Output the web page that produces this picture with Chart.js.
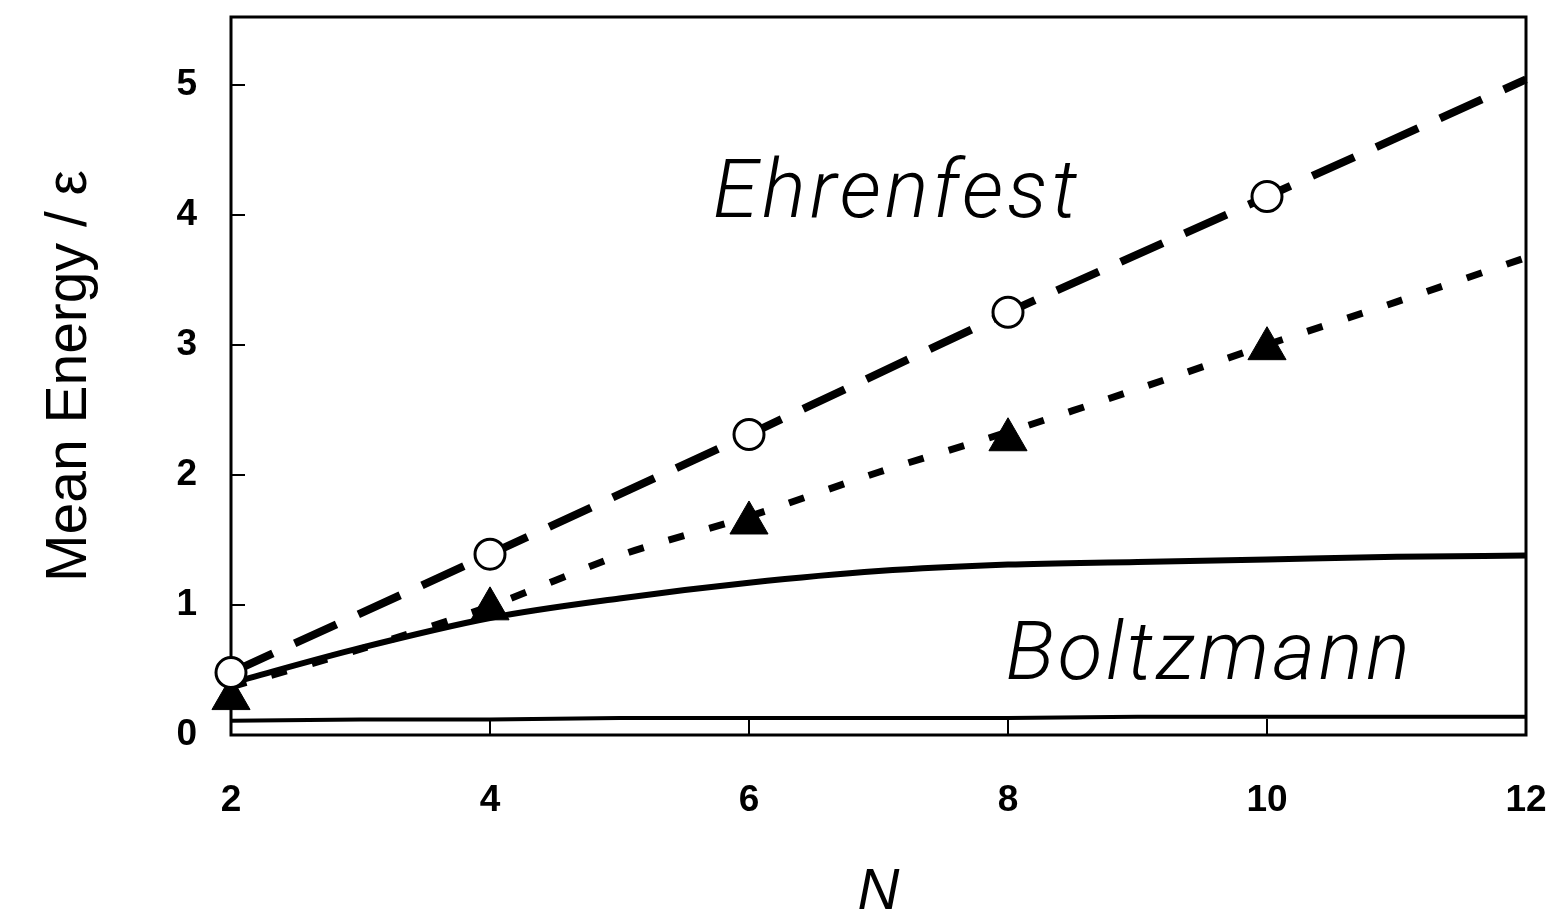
<!DOCTYPE html>
<html>
<head>
<meta charset="utf-8">
<script src="https://cdn.jsdelivr.net/npm/chart.js@4/dist/chart.umd.min.js"></script>
<style>
  html, body { margin: 0; padding: 0; background: #ffffff; }
  #wrap { width: 1564px; height: 916px; }
</style>
</head>
<body>
<div id="wrap"><canvas id="c" width="1564" height="916"></canvas></div>
<script>
// Particle number N and mean energies (in units of ε)
const nAll = [2, 3, 4, 5, 6, 7, 8, 9, 10, 11, 12];
const nMarkers = [2, 4, 6, 8, 10];
const nFit = [2, 4, 6, 8, 10, 12];

const ehrenfestMarkers = [0.48, 1.39, 2.31, 3.25, 4.14];
const ehrenfestFit = [0.48, 1.39, 2.31, 3.25, 4.14, 5.04];
const triangleMarkers = [0.28, 0.97, 1.63, 2.27, 2.97];
const dottedCurve = [0.37, 0.66, 0.99, 1.38, 1.68, 2.02, 2.33, 2.66, 3.00, 3.33, 3.67];
const boltzmannCurve = [0.40, 0.67, 0.90, 1.05, 1.17, 1.26, 1.31, 1.33, 1.35, 1.37, 1.38];
const groundCurve = [0.11, 0.12, 0.12, 0.13, 0.13, 0.13, 0.13, 0.14, 0.14, 0.14, 0.14];

const xTickValues = [2, 4, 6, 8, 10, 12];
const yTickValues = [0, 1, 2, 3, 4, 5];

// In-plot labels, placed in data coordinates
const textLabels = [
  { text: 'Ehrenfest', n: 5.72, e: 3.98, spacing: '4px' },
  { text: 'Boltzmann', n: 7.98, e: 0.43, spacing: '3.5px' }
];

const pts = (xs, ys) => xs.map((x, i) => ({ x: x, y: ys[i] }));

// Box frame plus inward tick marks
const framePlugin = {
  id: 'frame',
  beforeDatasetsDraw(chart) {
    const { ctx, chartArea: a, scales } = chart;
    ctx.save();
    ctx.strokeStyle = '#000';
    ctx.lineWidth = 3;
    ctx.strokeRect(a.left, a.top, a.right - a.left, a.bottom - a.top);
    ctx.lineWidth = 2;
    ctx.beginPath();
    xTickValues.forEach(v => {
      const px = Math.round(scales.x.getPixelForValue(v));
      ctx.moveTo(px, a.bottom);
      ctx.lineTo(px, a.bottom - 16);
    });
    yTickValues.forEach(v => {
      const py = Math.round(scales.y.getPixelForValue(v));
      ctx.moveTo(a.left, py);
      ctx.lineTo(a.left + 14, py);
    });
    ctx.stroke();
    ctx.restore();
  }
};

const labelPlugin = {
  id: 'curveLabels',
  afterDatasetsDraw(chart) {
    const { ctx, scales } = chart;
    ctx.save();
    ctx.fillStyle = '#000';
    ctx.font = 'italic 300 82px Roboto, "Liberation Sans", Arial, sans-serif';
    ctx.textAlign = 'left';
    ctx.textBaseline = 'alphabetic';
    textLabels.forEach(l => {
      ctx.letterSpacing = l.spacing;
      ctx.fillText(l.text, scales.x.getPixelForValue(l.n), scales.y.getPixelForValue(l.e));
    });
    ctx.restore();
  }
};

new Chart(document.getElementById('c'), {
  type: 'line',
  data: {
    datasets: [
      {
        label: 'Ehrenfest markers',
        data: pts(nMarkers, ehrenfestMarkers),
        showLine: false,
        pointStyle: 'circle',
        pointRadius: 15,
        pointBorderWidth: 3,
        pointBackgroundColor: '#ffffff',
        pointBorderColor: '#000000',
        order: 0
      },
      {
        label: 'Triangle markers',
        data: pts(nMarkers, triangleMarkers),
        showLine: false,
        pointStyle: 'triangle',
        pointRadius: 22,
        pointBorderWidth: 1,
        pointBackgroundColor: '#000000',
        pointBorderColor: '#000000',
        order: 1
      },
      {
        label: 'Ehrenfest',
        data: pts(nFit, ehrenfestFit),
        borderColor: '#000',
        borderWidth: 8,
        borderDash: [46, 24],
        pointRadius: 0,
        tension: 0,
        order: 2
      },
      {
        label: 'Dotted',
        data: pts(nAll, dottedCurve),
        borderColor: '#000',
        borderWidth: 7,
        borderDash: [16, 26],
        pointRadius: 0,
        tension: 0.3,
        order: 3
      },
      {
        label: 'Boltzmann',
        data: pts(nAll, boltzmannCurve),
        borderColor: '#000',
        borderWidth: 6,
        pointRadius: 0,
        tension: 0.4,
        cubicInterpolationMode: 'monotone',
        order: 4
      },
      {
        label: 'Ground',
        data: pts(nAll, groundCurve),
        borderColor: '#000',
        borderWidth: 4,
        pointRadius: 0,
        tension: 0,
        order: 5
      }
    ]
  },
  options: {
    responsive: false,
    devicePixelRatio: 1,
    animation: false,
    clip: false,
    layout: { autoPadding: false, padding: { left: 0, top: 17, right: 38, bottom: 0 } },
    plugins: {
      legend: { display: false },
      tooltip: { enabled: false }
    },
    scales: {
      x: {
        type: 'linear',
        min: 2,
        max: 12,
        afterBuildTicks: s => { s.ticks = xTickValues.map(v => ({ value: v })); },
        afterFit: s => { s.height = 181; s.paddingLeft = 0; s.paddingRight = 0; },
        grid: { display: false, drawTicks: false },
        border: { display: false },
        ticks: {
          color: '#000',
          padding: 44,
          font: { family: '"Liberation Sans", Arial, sans-serif', size: 37, weight: 'bold' }
        },
        title: {
          display: true,
          text: 'N',
          color: '#000',
          padding: { top: 0, bottom: -6 },
          font: { family: '"Liberation Sans", Arial, sans-serif', size: 58, style: 'italic', lineHeight: 1 }
        }
      },
      y: {
        min: 0,
        max: 5.52,
        afterBuildTicks: s => { s.ticks = yTickValues.map(v => ({ value: v })); },
        afterFit: s => { s.width = 231; s.paddingTop = 0; s.paddingBottom = 0; },
        grid: { display: false, drawTicks: false },
        border: { display: false },
        ticks: {
          color: '#000',
          padding: 34,
          font: { family: '"Liberation Sans", Arial, sans-serif', size: 37, weight: 'bold' }
        },
        title: {
          display: true,
          text: 'Mean Energy / ε',
          color: '#000',
          padding: { top: 42, bottom: 0 },
          font: { family: '"Liberation Sans", Arial, sans-serif', size: 57, lineHeight: 1 }
        }
      }
    }
  },
  plugins: [framePlugin, labelPlugin]
});
</script>
</body>
</html>
